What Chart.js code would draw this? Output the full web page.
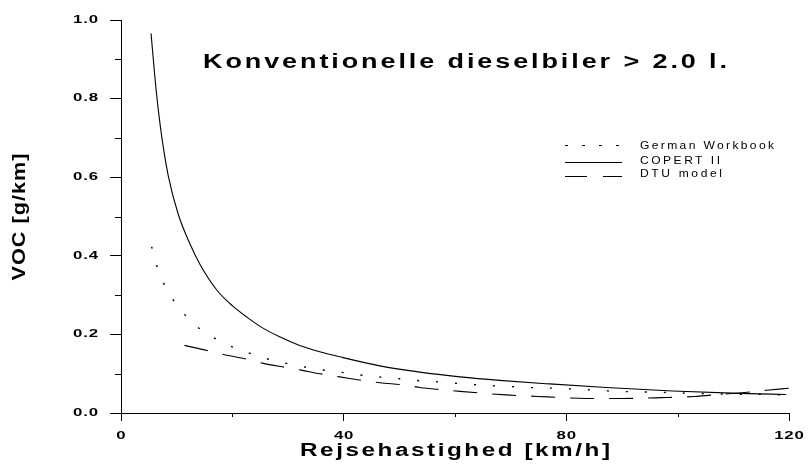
<!DOCTYPE html>
<html>
<head>
<meta charset="utf-8">
<script src="https://cdn.jsdelivr.net/npm/chart.js@4.4.1/dist/chart.umd.min.js"></script>
<style>
    html, body { margin: 0; padding: 0; background: #fff; }
</style>
</head>
<body>
<canvas id="chart-voc" width="808" height="464"></canvas>
<script>
// values (speed km/h, VOC g/km)
const copertSpeed = [5.4, 5.8, 6.4, 7.3, 8.5, 10.3, 12.4, 14.2, 17.2, 20, 22.6, 25.5, 28.5, 32.1, 35.7, 39.3, 46.5, 53.7, 60.9, 68, 77, 87.2, 99.1, 111, 119.5];
const copertVoc = [0.966, 0.9, 0.81, 0.705, 0.603, 0.505, 0.43, 0.378, 0.313, 0.273, 0.244, 0.216, 0.194, 0.172, 0.156, 0.143, 0.12, 0.104, 0.092, 0.083, 0.074, 0.065, 0.056, 0.05, 0.047];

const germanSpeed = [5.5, 6.4, 7.6, 9.3, 11.4, 13.9, 16.7, 19.7, 22.9, 26.2, 29.4, 32.6, 36, 39.3, 42.9, 46.2, 49.5, 52.8, 56.1, 59.7, 62.7, 65.7, 69.2, 72.5, 75.8, 82.7, 89.3, 96.2, 102.8, 109.3, 116.5, 120];
const germanVoc = [0.423, 0.376, 0.332, 0.289, 0.251, 0.217, 0.191, 0.17, 0.153, 0.138, 0.127, 0.118, 0.11, 0.104, 0.097, 0.092, 0.088, 0.083, 0.08, 0.076, 0.073, 0.07, 0.068, 0.065, 0.064, 0.06, 0.055, 0.053, 0.05, 0.048, 0.047, 0.046];

const dtuSpeed = [11.4, 15.5, 18.4, 22.6, 25.4, 29.6, 32.4, 35.7, 39.3, 43.8, 46.5, 51, 53.7, 57.9, 60.9, 69.2, 76.7, 83.6, 90, 97, 103, 108, 112, 116, 120];
const dtuVoc = [0.172, 0.159, 0.149, 0.137, 0.127, 0.116, 0.109, 0.1, 0.092, 0.082, 0.077, 0.071, 0.065, 0.059, 0.055, 0.046, 0.041, 0.037, 0.037, 0.039, 0.042, 0.048, 0.052, 0.058, 0.063];

const seriesNames = ["German Workbook", "COPERT II", "DTU model"];
const chartTitle = "Konventionelle dieselbiler > 2.0 l.";
const xTitle = "Rejsehastighed [km/h]";
const yTitle = "VOC [g/km]";

const FONT = '"Liberation Sans", Arial, Helvetica, sans-serif';

function toPoints(xs, ys) {
    return xs.map((x, i) => ({ x: x, y: ys[i] }));
}

// stretched / letter-spaced text like the old plot software
function drawText(ctx, text, x, y, o) {
    const sx = o.sx || 1;
    ctx.save();
    ctx.font = (o.weight || "normal") + " " + o.size + "px " + FONT;
    ctx.letterSpacing = "0px";
    const natural = ctx.measureText(text).width;
    let sp = o.sp || 0;
    if (o.width) sp = (o.width / sx - natural) / (text.length - 1);
    ctx.letterSpacing = sp + "px";
    const w = (natural + sp * (text.length - 1)) * sx;
    ctx.textBaseline = "middle";
    ctx.textAlign = "left";
    ctx.fillStyle = "#000";
    ctx.translate(x, y);
    if (o.rot) ctx.rotate(o.rot);
    const left = o.align === "center" ? -w / 2 : o.align === "right" ? -w : 0;
    ctx.translate(left, 0);
    ctx.scale(sx, 1);
    ctx.fillText(text, 0, 0);
    ctx.restore();
}

const textPlugin = {
    id: "vocText",
    afterDraw(chart) {
        const ctx = chart.ctx;
        const xs = chart.scales.x;
        const ys = chart.scales.y;
        const area = chart.chartArea;

        // minor ticks
        ctx.save();
        ctx.strokeStyle = "#000";
        ctx.lineWidth = 1;
        ctx.beginPath();
        xs.ticks.forEach((t) => {
            if (t.value % 40 !== 0) {
                const px = Math.round(xs.getPixelForValue(t.value)) + 0.5;
                ctx.moveTo(px, area.bottom);
                ctx.lineTo(px, area.bottom + 4);
            }
        });
        ys.ticks.forEach((t) => {
            if (Math.round(t.value * 10) % 2 !== 0) {
                const py = Math.round(ys.getPixelForValue(t.value)) + 0.5;
                ctx.moveTo(area.left - 6, py);
                ctx.lineTo(area.left, py);
            }
        });
        ctx.stroke();
        ctx.restore();

        // tick labels
        ys.ticks.forEach((t) => {
            if (Math.round(t.value * 10) % 2 === 0) {
                drawText(ctx, t.value.toFixed(1), 98, ys.getPixelForValue(t.value),
                    { size: 10.5, weight: "bold", sx: 1.6, sp: 0.5, align: "right" });
            }
        });
        xs.ticks.forEach((t) => {
            if (t.value % 40 === 0) {
                drawText(ctx, String(t.value), xs.getPixelForValue(t.value), 436,
                    { size: 10.5, weight: "bold", sx: 1.6, sp: 0.5, align: "center" });
            }
        });

        // titles
        drawText(ctx, chartTitle, 465, 62, { size: 20, weight: "bold", sx: 1.35, width: 524, align: "center" });
        drawText(ctx, xTitle, 455, 451, { size: 18, weight: "bold", sx: 1.35, width: 310, align: "center" });
        drawText(ctx, yTitle, 20, 217, { size: 18, weight: "bold", sx: 1.2, width: 127, align: "center", rot: -Math.PI / 2 });

        // legend
        const rows = [
            { ds: chart.data.datasets[0], ly: 145.5, ty: 146, w: 134 },
            { ds: chart.data.datasets[1], ly: 162.5, ty: 161.5, w: 80 },
            { ds: chart.data.datasets[2], ly: 176.5, ty: 174, w: 82 },
        ];
        rows.forEach((r) => {
            ctx.save();
            ctx.strokeStyle = "#000";
            ctx.lineWidth = 1;
            ctx.setLineDash(r.ds.legendDash || []);
            ctx.beginPath();
            ctx.moveTo(565, r.ly);
            ctx.lineTo(622, r.ly);
            ctx.stroke();
            ctx.restore();
            drawText(ctx, r.ds.label, 640, r.ty, { size: 10.5, sx: 1.15, width: r.w });
        });
    },
};

const chartVoc = document.getElementById("chart-voc");

new Chart(chartVoc, {
    type: "line",
    data: {
        datasets: [
            {
                label: seriesNames[0],
                data: toPoints(germanSpeed, germanVoc),
                borderColor: "#000",
                borderWidth: 1.4,
                borderDash: [2, 17],
                legendDash: [3, 14],
            },
            {
                label: seriesNames[1],
                data: toPoints(copertSpeed, copertVoc),
                borderColor: "#000",
                borderWidth: 1.1,
                borderDash: [],
            },
            {
                label: seriesNames[2],
                data: toPoints(dtuSpeed, dtuVoc),
                borderColor: "#000",
                borderWidth: 1.1,
                borderDash: [24, 15],
                legendDash: [22, 16],
            },
        ],
    },
    options: {
        responsive: false,
        animation: false,
        devicePixelRatio: 1,
        layout: { padding: { top: 20, right: 19, left: 0, bottom: 0 } },
        elements: {
            point: { radius: 0 },
            line: { cubicInterpolationMode: "monotone", fill: false },
        },
        plugins: {
            legend: { display: false },
            title: { display: false },
            tooltip: { enabled: false },
        },
        scales: {
            x: {
                type: "linear",
                min: 0,
                max: 120,
                ticks: { stepSize: 20, display: false },
                grid: {
                    drawOnChartArea: false,
                    drawTicks: true,
                    tickLength: 8,
                    tickColor: (c) => (c.tick && c.tick.value % 40 === 0 ? "#000" : "rgba(0,0,0,0)"),
                },
                border: { color: "#000", width: 1 },
                afterFit(scale) {
                    scale.height = 51;
                },
            },
            y: {
                type: "linear",
                min: 0,
                max: 1,
                ticks: { stepSize: 0.1, display: false },
                grid: {
                    drawOnChartArea: false,
                    drawTicks: true,
                    tickLength: 11,
                    tickColor: (c) => (c.tick && Math.round(c.tick.value * 10) % 2 === 0 ? "#000" : "rgba(0,0,0,0)"),
                },
                border: { color: "#000", width: 1 },
                afterFit(scale) {
                    scale.width = 121;
                },
            },
        },
    },
    plugins: [textPlugin],
});
</script>
</body>
</html>
